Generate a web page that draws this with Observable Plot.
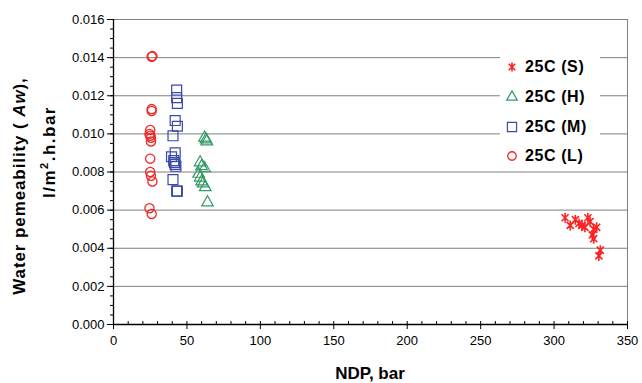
<!DOCTYPE html>
<html><head><meta charset="utf-8">
<script src="https://cdn.jsdelivr.net/npm/d3@7"></script>
<script src="https://cdn.jsdelivr.net/npm/@observablehq/plot@0.6"></script>
<style>
body{margin:0;background:#fff;}
#chart{position:relative;width:642px;height:383px;font-family:Arial,"Liberation Sans",sans-serif;}
#legend{position:absolute;left:500px;top:46px;width:100px;height:123px;background:#fff;}
.item{position:absolute;left:0;height:20px;display:flex;align-items:center;font-weight:bold;font-size:16px;letter-spacing:0.6px;color:#000;white-space:pre;}
.item svg{margin-left:5px;margin-right:6px;}
</style></head><body><div id="chart"><div id="legend"></div></div>
<script>
// ---- data ----
const seriesNames = ["25C (S)", "25C (H)", "25C (M)", "25C (L)"];
const colors = ["#ff2020", "#339966", "#3a4aa8", "#f02828"];

const ndpS = [307.5, 311, 314.5, 317, 319, 321, 323, 324.5, 327, 329, 326, 327, 331.5, 330.5];
const awS  = [0.0056, 0.0052, 0.0055, 0.0053, 0.0052, 0.0051, 0.0056, 0.0054, 0.0050, 0.0051, 0.0047, 0.0045, 0.0039, 0.0036];

const ndpH = [62, 63, 63.5, 59, 60, 62, 58, 59, 60, 61, 62.5, 64];
const awH  = [0.0098, 0.0097, 0.0096, 0.0085, 0.0083, 0.0082, 0.0079, 0.0077, 0.0075, 0.0074, 0.0072, 0.0064];

const ndpM = [43, 43, 43.5, 42, 43.5, 40.5, 42, 39.5, 41, 41.5, 42, 42.5, 40.5, 43, 43.5];
const awM  = [0.0123, 0.0119, 0.0116, 0.0107, 0.0104, 0.0099, 0.0090, 0.0088, 0.0086, 0.0085, 0.0084, 0.0083, 0.0076, 0.0070, 0.0070];

const ndpL = [26, 26.5, 26, 26, 25, 24.5, 25, 25.5, 25.5, 25, 25, 25.5, 26.5, 24.5, 26];
const awL  = [0.01405, 0.01408, 0.0113, 0.0112, 0.0102, 0.0100, 0.0099, 0.0098, 0.0096, 0.0087, 0.0080, 0.0078, 0.0075, 0.0061, 0.0058];

const yTicks = [0, 0.002, 0.004, 0.006, 0.008, 0.010, 0.012, 0.014, 0.016];
const xTicks = [0, 50, 100, 150, 200, 250, 300, 350];
const yMinor = d3.range(0, 0.01601, 0.0005);
const xMinor = d3.range(0, 351, 10);

// ---- build ----
const toRows = (xs, ys, s) => xs.map((x, i) => ({ndp: x, aw: ys[i], series: s}));
const rows = [
  toRows(ndpS, awS, seriesNames[0]),
  toRows(ndpH, awH, seriesNames[1]),
  toRows(ndpM, awM, seriesNames[2]),
  toRows(ndpL, awL, seriesNames[3])
];

const excelStar = {
  draw(ctx, size) {
    const r = Math.sqrt(size / Math.PI);
    const d = r * Math.SQRT1_2;
    ctx.moveTo(0, -r); ctx.lineTo(0, r);
    ctx.moveTo(-d, -d); ctx.lineTo(d, d);
    ctx.moveTo(-d, d); ctx.lineTo(d, -d);
  }
};
const symbols = [excelStar, "triangle", "square", "circle"];
const radii = [5, 4.3, 5.6, 4.6];
const widths = [1.6, 1.2, 1.2, 1.3];

const plot = Plot.plot({
  width: 642, height: 383,
  marginLeft: 113, marginRight: 15, marginTop: 19, marginBottom: 59,
  style: {fontFamily: "Arial, 'Liberation Sans', sans-serif", fontSize: "13px", color: "#000", background: "#fff"},
  x: {domain: [0, 350]},
  y: {domain: [0, 0.016]},
  marks: [
    Plot.gridY(yTicks, {stroke: "#808080", strokeOpacity: 1, strokeWidth: 1}),
    Plot.frame({stroke: "#808080"}),
    Plot.ruleX([0], {stroke: "#000", strokeWidth: 1.3}),
    Plot.ruleY([0], {stroke: "#000", strokeWidth: 1.3}),
    Plot.axisY(yMinor, {tickSize: 3, text: null, stroke: "#000", strokeWidth: 1, label: null}),
    Plot.axisY(yTicks, {tickSize: 6, tickPadding: 3, tickFormat: d3.format(".3f"), stroke: "#000", fontSize: 13, fill: "#000", label: null}),
    Plot.axisX(xMinor, {tickSize: -3, text: null, stroke: "#000", strokeWidth: 1, label: null}),
    Plot.axisX(xTicks, {tickSize: 5, tickPadding: 6, stroke: "#000", fontSize: 13, fill: "#000", label: null}),
    ...rows.map((data, i) =>
      Plot.dot(data, {x: "ndp", y: "aw", symbol: () => symbols[i], r: radii[i], stroke: colors[i], strokeWidth: widths[i], fill: "none"})
    )
  ]
});
document.getElementById("chart").prepend(plot);

// ---- titles ----
const svg = d3.select(plot);
svg.append("text")
  .attr("x", 370).attr("y", 379).attr("text-anchor", "middle")
  .attr("font-weight", "bold").attr("font-size", 17).attr("fill", "#000")
  .text("NDP, bar");

const t1 = svg.append("text")
  .attr("transform", "translate(25,186) rotate(-90)")
  .attr("text-anchor", "middle").attr("font-weight", "bold").attr("font-size", 17).attr("fill", "#000")
  .attr("letter-spacing", "0.9px");
t1.append("tspan").text("Water pemeability ( ");
t1.append("tspan").attr("font-style", "italic").text("Aw");
t1.append("tspan").text("),");

const t2 = svg.append("text")
  .attr("transform", "translate(55,152) rotate(-90)")
  .attr("text-anchor", "middle").attr("font-weight", "bold").attr("font-size", 17).attr("fill", "#000")
  .attr("letter-spacing", "1.5px");
t2.append("tspan").text("l/m");
t2.append("tspan").attr("font-size", 11).attr("dy", -7).text("2");
t2.append("tspan").attr("dy", 7).text(".h.bar");

// ---- legend ----
const legend = document.getElementById("legend");
const tops = [11, 41, 71, 100];
seriesNames.forEach((name, i) => {
  const div = document.createElement("div");
  div.className = "item";
  div.style.top = tops[i] + "px";
  const s = d3.create("svg").attr("width", 14).attr("height", 14);
  const sym = typeof symbols[i] === "string" ? {triangle: d3.symbolTriangle, square: d3.symbolSquare, circle: d3.symbolCircle}[symbols[i]] : symbols[i];
  s.append("path")
    .attr("transform", "translate(7,7)")
    .attr("d", d3.symbol(sym, Math.PI * radii[i] * radii[i] * 0.85)())
    .attr("fill", "none").attr("stroke", colors[i]).attr("stroke-width", widths[i]);
  div.appendChild(s.node());
  div.appendChild(document.createTextNode(name));
  legend.appendChild(div);
});
</script>
</body></html>
